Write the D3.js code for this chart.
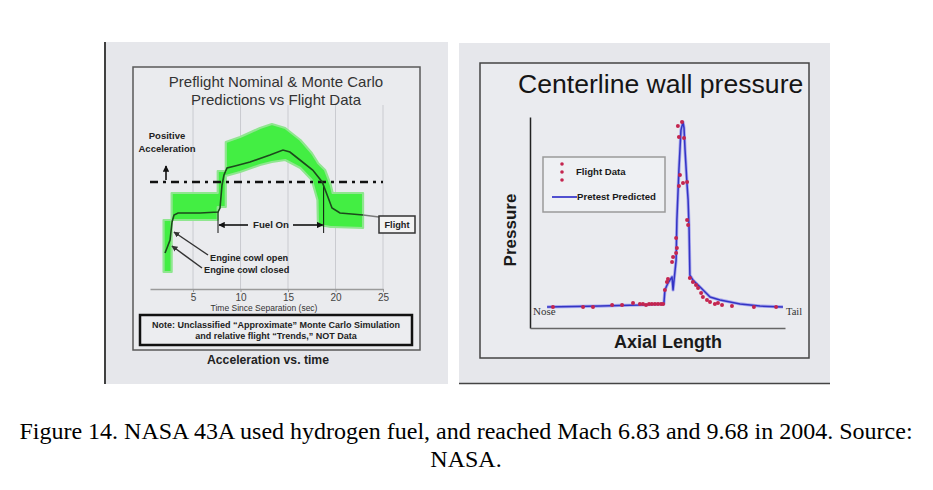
<!DOCTYPE html>
<html><head><meta charset="utf-8">
<script src="https://cdn.jsdelivr.net/npm/d3@7"></script>
<style>body{margin:0;background:#fff}svg{display:block}</style>
</head><body>
<script>
// ---- Left chart data: Acceleration vs time ----
const timeTicks = [5, 10, 15, 20, 25];
const flightTime = [2.05, 2.26, 2.58, 2.79, 3.0, 3.42, 5.74, 7.63, 7.84, 8.05, 8.26, 8.58, 9.42, 11.0, 13.1, 14.47, 15.2, 16.26, 17.6, 18.6, 19.2, 19.63, 20.47, 21.7, 22.9];
const flightAccel = [-7.1, -6.6, -5.8, -4.0, -3.3, -3.1, -3.1, -3.0, -2.6, -0.3, 0.7, 1.4, 1.6, 2.0, 2.7, 3.2, 3.0, 2.2, 1.2, 0.0, -1.5, -2.6, -3.1, -3.2, -3.3];
const mcTime  = [1.9, 2.75, 2.75, 7.6, 7.6, 8.45, 8.45, 9.95, 12.05, 13.3, 14.7, 16.3, 17.5, 18.1, 18.15, 18.9, 19.5, 19.7, 22.9];
const mcUpper = [-3.8, -3.8, -1.1, -1.1, 1.1, 1.1, 4.0, 4.5, 5.4, 5.8, 5.4, 4.2, 2.9, 2.0, 1.9, 1.2, -0.3, -1.1, -1.1];
const mcLower = [-9.0, -9.0, -3.8, -3.8, -2.5, -2.5, 0.6, 1.0, 1.7, 2.0, 2.2, 1.4, 0.2, -1.8, -4.3, -4.4, -4.5, -4.5, -4.6];
const fuelOn = [7.63, 18.75];

// ---- Right chart data: centerline wall pressure ----
const predPos = [6.7, 27.5, 35.3, 43.1, 52.5, 52.9, 54.1, 55.7, 56.1, 57.3, 57.6, 58.4, 59.2, 60.0, 60.4, 60.8, 61.6, 62.0, 62.4, 62.7, 63.9, 66.7, 70.6, 74.5, 82.4, 90.2, 99.2];
const predP   = [10.0, 10.4, 10.7, 10.9, 11.4, 18.0, 21.3, 24.2, 18.0, 32.2, 51.2, 74.9, 93.8, 97.6, 94.8, 84.4, 67.8, 60.7, 46.4, 25.1, 22.7, 19.4, 14.7, 13.3, 11.4, 10.4, 10.0];
const flightPos = [9.0, 20.8, 24.7, 32.2, 36.1, 40.4, 43.1, 44.3, 45.5, 46.7, 47.8, 49.0, 50.2, 51.4, 52.2, 52.9, 53.7, 54.1, 55.7, 56.1, 57.3, 57.6, 57.3, 58.4, 58.8, 60.0, 61.6, 58.0, 59.6, 58.4, 60.4, 61.6, 62.0, 62.7, 63.9, 65.1, 65.9, 67.1, 67.8, 69.4, 70.6, 72.5, 73.7, 75.3, 79.2, 87.8, 96.5];
const flightP   = [10.0, 10.0, 10.0, 10.9, 10.9, 11.8, 11.4, 11.4, 10.9, 11.4, 11.4, 11.4, 11.4, 11.4, 11.4, 18.0, 21.8, 23.2, 31.3, 33.6, 35.5, 37.9, 42.7, 67.3, 72.5, 68.7, 69.2, 95.7, 97.6, 90.5, 90.0, 51.2, 48.8, 23.7, 21.8, 20.4, 19.0, 16.6, 14.7, 13.3, 12.3, 11.4, 11.8, 10.9, 10.4, 10.0, 10.0];

const W = 933, H = 490;
const sans = "'Liberation Sans', Arial, sans-serif";
const serif = "'Liberation Serif', 'Times New Roman', serif";
const svg = d3.select("body").append("svg").attr("width", W).attr("height", H);
svg.append("rect").attr("width", W).attr("height", H).attr("fill", "#fff");

const defs = svg.append("defs");
function marker(id, color) {
  defs.append("marker").attr("id", id).attr("viewBox", "0 0 10 10").attr("refX", 9).attr("refY", 5)
    .attr("markerWidth", 4).attr("markerHeight", 4).attr("orient", "auto-start-reverse").attr("markerUnits", "strokeWidth")
    .append("path").attr("d", "M0,0 L10,5 L0,10 z").attr("fill", color);
}
marker("arr", "#111");
marker("arrg", "#333");

// ================= LEFT PANEL =================
const L = svg.append("g");
L.append("rect").attr("x", 106).attr("y", 42).attr("width", 342).attr("height", 342).attr("fill", "#e6e7eb");
L.append("line").attr("x1", 105).attr("x2", 105).attr("y1", 42).attr("y2", 384).attr("stroke", "#111").attr("stroke-width", 1.6);
L.append("rect").attr("x", 133).attr("y", 67).attr("width", 287).attr("height", 283).attr("fill", "#eaebee").attr("stroke", "#5a5a5a").attr("stroke-width", 1.5);

L.append("text").attr("x", 276).attr("y", 87).attr("text-anchor", "middle").attr("font-family", sans).attr("font-size", 15).attr("fill", "#333").text("Preflight Nominal & Monte Carlo");
L.append("text").attr("x", 276).attr("y", 105).attr("text-anchor", "middle").attr("font-family", sans).attr("font-size", 15).attr("fill", "#333").text("Predictions vs Flight Data");

const xL = d3.scaleLinear().domain([0.47, 25]).range([150, 383]);
const yL = d3.scaleLinear().domain([-10.7, 7.7]).range([289, 105]);

// grid
L.append("g").selectAll("line").data(timeTicks).join("line")
  .attr("x1", d => xL(d)).attr("x2", d => xL(d)).attr("y1", yL(7.7)).attr("y2", yL(-10.7))
  .attr("stroke", "#cacbd0").attr("stroke-width", 1);

// axis
const axL = L.append("g").attr("transform", `translate(0,${yL(-10.7)})`)
  .call(d3.axisBottom(xL).tickValues(timeTicks).tickSize(3).tickSizeOuter(0).tickPadding(2));
axL.select(".domain").attr("stroke", "#9a9a9a").attr("stroke-width", 1.6);
axL.selectAll(".tick line").attr("stroke", "#999");
axL.selectAll(".tick text").attr("font-family", sans).attr("font-size", 10).attr("fill", "#444");
L.append("text").attr("x", 264).attr("y", 311).attr("text-anchor", "middle").attr("font-family", sans).attr("font-size", 8.5).attr("fill", "#333").text("Time Since Separation (sec)");

// Monte Carlo band
const mcData = mcTime.map((t, i) => ({t, u: mcUpper[i], l: mcLower[i]}));
const area = d3.area().x(d => xL(d.t)).y0(d => yL(d.l)).y1(d => yL(d.u));
L.append("path").datum(mcData).attr("d", area).attr("fill", "#43ee43").attr("stroke", "#8fe68f").attr("stroke-width", 2.2).attr("stroke-linejoin", "round");

// zero line (dash-dot)
L.append("line").attr("x1", xL(0.47)).attr("x2", xL(25)).attr("y1", yL(0)).attr("y2", yL(0))
  .attr("stroke", "#111").attr("stroke-width", 2.6).attr("stroke-dasharray", "8,5,3,5");

// fuel-on vertical markers
const flightAt = t => { for (let i = 1; i < flightTime.length; i++) if (flightTime[i] >= t) { const f = (t - flightTime[i-1])/(flightTime[i]-flightTime[i-1]); return flightAccel[i-1] + f*(flightAccel[i]-flightAccel[i-1]); } return 0; };
fuelOn.forEach(t => {
  L.append("line").attr("x1", xL(t)).attr("x2", xL(t)).attr("y1", yL(flightAt(t))).attr("y2", 233).attr("stroke", "#111").attr("stroke-width", 1);
});

// flight line
const line = d3.line().x((d, i) => xL(flightTime[i])).y(d => yL(d)).curve(d3.curveLinear);
L.append("path").datum(flightAccel).attr("d", line).attr("fill", "none").attr("stroke", "#1c4a1c").attr("stroke-width", 1.6);

// Fuel On annotation
L.append("line").attr("x1", 248).attr("x2", xL(fuelOn[0]) + 1).attr("y1", 225).attr("y2", 225).attr("stroke", "#111").attr("stroke-width", 1.6).attr("marker-end", "url(#arr)");
L.append("line").attr("x1", 293).attr("x2", xL(fuelOn[1]) - 1).attr("y1", 225).attr("y2", 225).attr("stroke", "#111").attr("stroke-width", 1.6).attr("marker-end", "url(#arr)");
L.append("text").attr("x", 271).attr("y", 228).attr("text-anchor", "middle").attr("font-family", sans).attr("font-weight", "bold").attr("font-size", 9.7).attr("fill", "#222").text("Fuel On");

// Flight label
const tEnd = flightTime[flightTime.length - 1];
L.append("line").attr("x1", xL(tEnd)).attr("x2", 379).attr("y1", yL(flightAccel[flightAccel.length - 1])).attr("y2", 217).attr("stroke", "#7a7a7a").attr("stroke-width", 1.5);
L.append("rect").attr("x", 379).attr("y", 216).attr("width", 36).attr("height", 17).attr("fill", "#f3f3f3").attr("stroke", "#333").attr("stroke-width", 1.5);
L.append("text").attr("x", 397).attr("y", 228).attr("text-anchor", "middle").attr("font-family", sans).attr("font-weight", "bold").attr("font-size", 9.2).attr("fill", "#222").text("Flight");

// Positive Acceleration
L.append("text").attr("x", 167).attr("y", 139).attr("text-anchor", "middle").attr("font-family", sans).attr("font-weight", "bold").attr("font-size", 9.5).attr("fill", "#222").text("Positive");
L.append("text").attr("x", 167).attr("y", 152).attr("text-anchor", "middle").attr("font-family", sans).attr("font-weight", "bold").attr("font-size", 9.5).attr("fill", "#222").text("Acceleration");
L.append("line").attr("x1", 166).attr("x2", 166).attr("y1", 180).attr("y2", 166).attr("stroke", "#111").attr("stroke-width", 1.6).attr("marker-end", "url(#arr)");

// engine cowl annotations
L.append("line").attr("x1", 208).attr("y1", 255).attr("x2", 174).attr("y2", 232).attr("stroke", "#333").attr("stroke-width", 1.5).attr("marker-end", "url(#arrg)");
L.append("line").attr("x1", 202).attr("y1", 268).attr("x2", 172).attr("y2", 246).attr("stroke", "#333").attr("stroke-width", 1.5).attr("marker-end", "url(#arrg)");
L.append("text").attr("x", 210).attr("y", 261).attr("font-family", sans).attr("font-weight", "bold").attr("font-size", 9.2).attr("fill", "#222").text("Engine cowl open");
L.append("text").attr("x", 204).attr("y", 273).attr("font-family", sans).attr("font-weight", "bold").attr("font-size", 9.2).attr("fill", "#222").text("Engine cowl closed");

// Note box
L.append("rect").attr("x", 140).attr("y", 315).attr("width", 272).attr("height", 30).attr("fill", "#ecedf0").attr("stroke", "#111").attr("stroke-width", 2.5);
L.append("text").attr("x", 276).attr("y", 328).attr("text-anchor", "middle").attr("font-family", sans).attr("font-weight", "bold").attr("font-size", 9).attr("fill", "#222").text("Note: Unclassified \u201CApproximate\u201D Monte Carlo Simulation");
L.append("text").attr("x", 276).attr("y", 339).attr("text-anchor", "middle").attr("font-family", sans).attr("font-weight", "bold").attr("font-size", 9).attr("fill", "#222").text("and relative flight \u201CTrends,\u201D NOT Data");
L.append("text").attr("x", 268).attr("y", 364).attr("text-anchor", "middle").attr("font-family", sans).attr("font-weight", "bold").attr("font-size", 12.2).attr("fill", "#222").text("Acceleration vs. time");

// ================= RIGHT PANEL =================
const R = svg.append("g");
R.append("rect").attr("x", 459).attr("y", 43).attr("width", 371).attr("height", 340).attr("fill", "#e6e7eb");
R.append("line").attr("x1", 459).attr("x2", 830).attr("y1", 383.5).attr("y2", 383.5).attr("stroke", "#444").attr("stroke-width", 1.6);
R.append("rect").attr("x", 480).attr("y", 63).attr("width", 329).attr("height", 295).attr("fill", "#eaebef").attr("stroke", "#444").attr("stroke-width", 1.5);
R.append("text").attr("x", 518).attr("y", 93).attr("font-family", sans).attr("font-size", 26.6).attr("fill", "#151515").text("Centerline wall pressure");

const xR = d3.scaleLinear().domain([0, 100]).range([530, 785]);
const yR = d3.scaleLinear().domain([0, 100]).range([328, 117]);

const ay = R.append("g").attr("transform", "translate(530,0)").call(d3.axisLeft(yR).tickValues([]).tickSizeOuter(0));
ay.select(".domain").attr("stroke", "#222").attr("stroke-width", 1.5);
const ax = R.append("g").attr("transform", "translate(0,328)").call(d3.axisBottom(xR).tickValues([]).tickSizeOuter(0));
ax.select(".domain").attr("stroke", "#666").attr("stroke-width", 1.5);

R.append("text").attr("transform", "translate(516,230) rotate(-90)").attr("text-anchor", "middle").attr("font-family", sans).attr("font-weight", "bold").attr("font-size", 17).attr("fill", "#1a1a1a").text("Pressure");
R.append("text").attr("x", 668).attr("y", 348).attr("text-anchor", "middle").attr("font-family", sans).attr("font-weight", "bold").attr("font-size", 18).attr("fill", "#1a1a1a").text("Axial Length");

// predicted line
const pLine = d3.line().x((d, i) => xR(predPos[i])).y(d => yR(d));
R.append("path").datum(predP).attr("d", pLine).attr("fill", "none").attr("stroke", "#a9a9ee").attr("stroke-width", 3.2).attr("stroke-linejoin", "round");
R.append("path").datum(predP).attr("d", pLine).attr("fill", "none").attr("stroke", "#3434c4").attr("stroke-width", 1.5).attr("stroke-linejoin", "round");

// flight data dots
R.append("g").selectAll("circle").data(flightP).join("circle")
  .attr("cx", (d, i) => xR(flightPos[i])).attr("cy", d => yR(d)).attr("r", 2)
  .attr("fill", "#c4254f");

R.append("text").attr("x", 533).attr("y", 315).attr("font-family", serif).attr("font-size", 11).attr("fill", "#333").text("Nose");
R.append("text").attr("x", 786).attr("y", 315).attr("font-family", serif).attr("font-size", 10.5).attr("fill", "#333").text("Tail");

// legend
R.append("rect").attr("x", 543).attr("y", 157).attr("width", 122).attr("height", 55).attr("fill", "#eef0f3").attr("stroke", "#9a9a9a").attr("stroke-width", 1.5);
R.append("g").selectAll("circle").data([164, 172, 180]).join("circle").attr("cx", 562).attr("cy", d => d).attr("r", 1.8).attr("fill", "#c4254f");
R.append("text").attr("x", 576).attr("y", 175).attr("font-family", sans).attr("font-weight", "bold").attr("font-size", 9.6).attr("fill", "#1a1a1a").text("Flight Data");
R.append("line").attr("x1", 552).attr("x2", 577).attr("y1", 197).attr("y2", 197).attr("stroke", "#5050d0").attr("stroke-width", 2);
R.append("text").attr("x", 577).attr("y", 200).attr("font-family", sans).attr("font-weight", "bold").attr("font-size", 9.6).attr("fill", "#1a1a1a").text("Pretest Predicted");

// ================= CAPTION =================
svg.append("text").attr("x", 466).attr("y", 439).attr("text-anchor", "middle").attr("font-family", serif).attr("font-size", 24).attr("fill", "#000")
  .text("Figure 14. NASA 43A used hydrogen fuel, and reached Mach 6.83 and 9.68 in 2004. Source:");
svg.append("text").attr("x", 466).attr("y", 467).attr("text-anchor", "middle").attr("font-family", serif).attr("font-size", 24).attr("fill", "#000")
  .text("NASA.");
</script>
</body></html>
